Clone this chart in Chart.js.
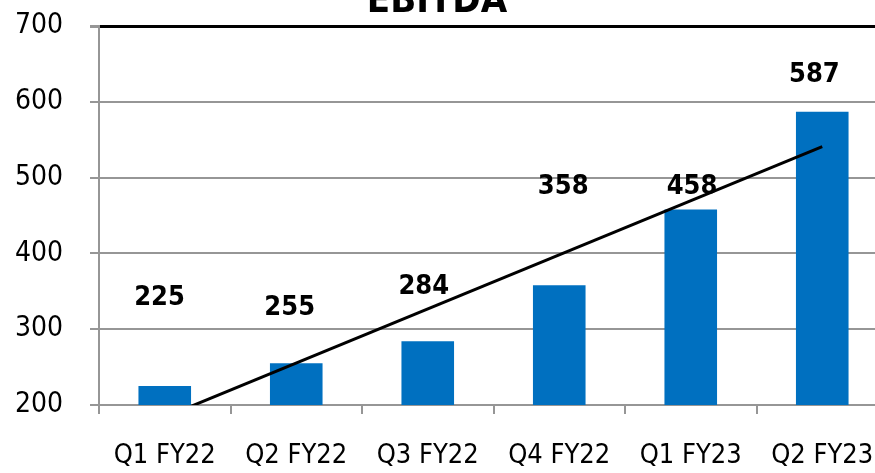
<!DOCTYPE html>
<html>
<head>
<meta charset="utf-8">
<title>EBITDA</title>
<script src="https://cdn.jsdelivr.net/npm/chart.js@4/dist/chart.umd.min.js"></script>
<style>
  html, body { margin: 0; padding: 0; background: #fff; overflow: hidden; }
  body { width: 875px; height: 473px; position: relative; }
  #chart { position: absolute; left: 0; top: -30px; }
</style>
</head>
<body>
<canvas id="chart" width="900" height="505"></canvas>
<script>
// quarters on the x axis
const quarters = ['Q1 FY22', 'Q2 FY22', 'Q3 FY22', 'Q4 FY22', 'Q1 FY23', 'Q2 FY23'];
// EBITDA per quarter
const ebitda = [225, 255, 284, 358, 458, 587];
// trend line ends (first and last quarter)
const trend = [184, null, null, null, null, 541];
// y axis
const yMin = 200;
const yMax = 700;
const yStep = 100;

// where each value label sits (value on y axis, shift in categories)
const labelAt = [341, 328, 356, 488, 488, 635];
const labelShift = [-0.04, -0.05, -0.03, 0.03, 0.01, -0.06];

const FONT = "'DejaVu Sans Condensed', 'Liberation Sans', Arial, sans-serif";
const GRID = '#969696';
const BLUE = '#0070C0';

const valueLabels = {
  id: 'valueLabels',
  afterDatasetDraw(chart, args) {
    if (args.index !== 0) return;
    const { ctx, scales } = chart;
    ctx.save();
    ctx.font = 'bold 27px ' + FONT;
    ctx.fillStyle = '#000';
    ctx.textAlign = 'center';
    ctx.textBaseline = 'middle';
    ebitda.forEach((v, i) => {
      const x = scales.x.getPixelForValue(i + labelShift[i]);
      const y = scales.y.getPixelForValue(labelAt[i]);
      ctx.fillText(String(v), x, y);
    });
    ctx.restore();
  }
};

new Chart(document.getElementById('chart'), {
  type: 'bar',
  data: {
    labels: quarters,
    datasets: [
      {
        type: 'bar',
        label: 'EBITDA',
        data: ebitda,
        backgroundColor: BLUE,
        borderWidth: 0,
        barPercentage: 0.4,
        categoryPercentage: 1.0,
        order: 1
      },
      {
        type: 'line',
        label: 'Trend',
        data: trend,
        spanGaps: true,
        borderColor: '#000',
        borderWidth: 3,
        pointRadius: 0,
        fill: false,
        clip: 0,
        order: 0
      }
    ]
  },
  options: {
    responsive: false,
    animation: false,
    // negative left padding keeps the title centred on the visible page
    layout: { padding: { left: -14, right: 12, top: 0, bottom: 0 } },
    plugins: {
      legend: { display: false },
      tooltip: { enabled: false },
      title: {
        display: true,
        text: 'EBITDA',
        color: '#000',
        font: { family: FONT, size: 38, weight: 'bold', lineHeight: 1.0 },
        padding: { top: 13, bottom: 5 }
      }
    },
    scales: {
      x: {
        afterFit(scale) {
          scale.height = 70;
          scale.paddingLeft = 0;
          scale.paddingRight = 0;
        },
        grid: {
          display: true,
          drawOnChartArea: false,
          drawTicks: true,
          tickLength: 9,
          color: GRID,
          lineWidth: 2
        },
        border: { display: true, color: GRID, width: 2 },
        ticks: {
          color: '#000',
          padding: 26,
          maxRotation: 0,
          autoSkip: false,
          font: { family: FONT, size: 27, lineHeight: 1.2 }
        }
      },
      y: {
        min: yMin,
        max: yMax,
        afterFit(scale) { scale.width = 113; },
        grid: {
          tickLength: 9,
          tickColor: GRID,
          color: (c) => (c.tick && c.tick.value === yMax ? '#000' : GRID),
          lineWidth: (c) => (c.tick && c.tick.value === yMax ? 3 : 2)
        },
        border: { display: true, color: GRID, width: 2 },
        ticks: {
          stepSize: yStep,
          color: '#000',
          padding: 27,
          font: { family: FONT, size: 28, lineHeight: 1.2 }
        }
      }
    }
  },
  plugins: [valueLabels]
});
</script>
</body>
</html>
